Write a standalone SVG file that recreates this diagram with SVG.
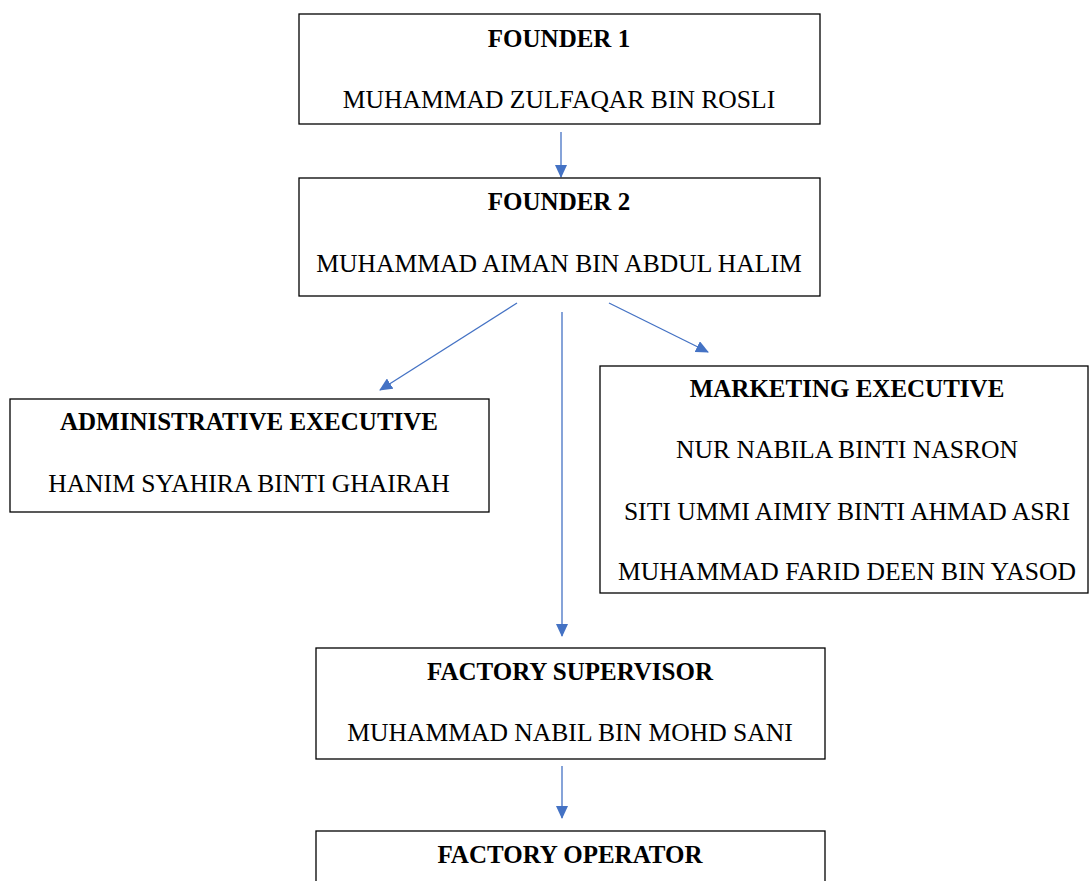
<svg xmlns="http://www.w3.org/2000/svg" width="1089" height="881" viewBox="0 0 1089 881">
<style>
.box{fill:#fff;stroke:#000;stroke-width:1.3}
.t{font-size:25.6px;fill:#000;text-anchor:middle}
.b{font-weight:bold;font-size:25px}
.c{stroke:#4472C4;stroke-width:1.3;fill:none;marker-end:url(#ah)}
</style>
<defs>
<marker id="ah" markerUnits="userSpaceOnUse" markerWidth="14" markerHeight="12" refX="12" refY="6" orient="auto">
<path d="M0,0 L13,6 L0,12 Z" fill="#4472C4"/>
</marker>
</defs>
<rect width="1089" height="881" fill="#fff"/>
<g id="connectors">
<line class="c" x1="561" y1="132" x2="561" y2="177"/>
<line class="c" x1="517" y1="303" x2="380" y2="390"/>
<line class="c" x1="562" y1="312" x2="562" y2="636"/>
<line class="c" x1="609" y1="303" x2="708" y2="352"/>
<line class="c" x1="562" y1="766" x2="562" y2="818"/>
</g>
<g font-family="Liberation Serif, serif">
<g id="founder1">
<rect class="box" x="299" y="14" width="521" height="110"/>
<text class="t b" x="559" y="47">FOUNDER 1</text>
<text class="t" x="559" y="108">MUHAMMAD ZULFAQAR BIN ROSLI</text>
</g>
<g id="founder2">
<rect class="box" x="299" y="178" width="521" height="118"/>
<text class="t b" x="559" y="210">FOUNDER 2</text>
<text class="t" x="559" y="272">MUHAMMAD AIMAN BIN ABDUL HALIM</text>
</g>
<g id="admin">
<rect class="box" x="10" y="399" width="479" height="113"/>
<text class="t b" x="249" y="430">ADMINISTRATIVE EXECUTIVE</text>
<text class="t" x="249" y="492">HANIM SYAHIRA BINTI GHAIRAH</text>
</g>
<g id="marketing">
<rect class="box" x="600" y="366" width="488" height="227"/>
<text class="t b" x="847" y="397">MARKETING EXECUTIVE</text>
<text class="t" x="847" y="458">NUR NABILA BINTI NASRON</text>
<text class="t" x="847" y="520">SITI UMMI AIMIY BINTI AHMAD ASRI</text>
<text class="t" x="847" y="580">MUHAMMAD FARID DEEN BIN YASOD</text>
</g>
<g id="supervisor">
<rect class="box" x="316" y="648" width="509" height="111"/>
<text class="t b" x="570" y="680">FACTORY SUPERVISOR</text>
<text class="t" x="570" y="741">MUHAMMAD NABIL BIN MOHD SANI</text>
</g>
<g id="operator">
<rect class="box" x="316" y="831" width="509" height="80"/>
<text class="t b" x="570" y="863">FACTORY OPERATOR</text>
</g>
</g>
</svg>
